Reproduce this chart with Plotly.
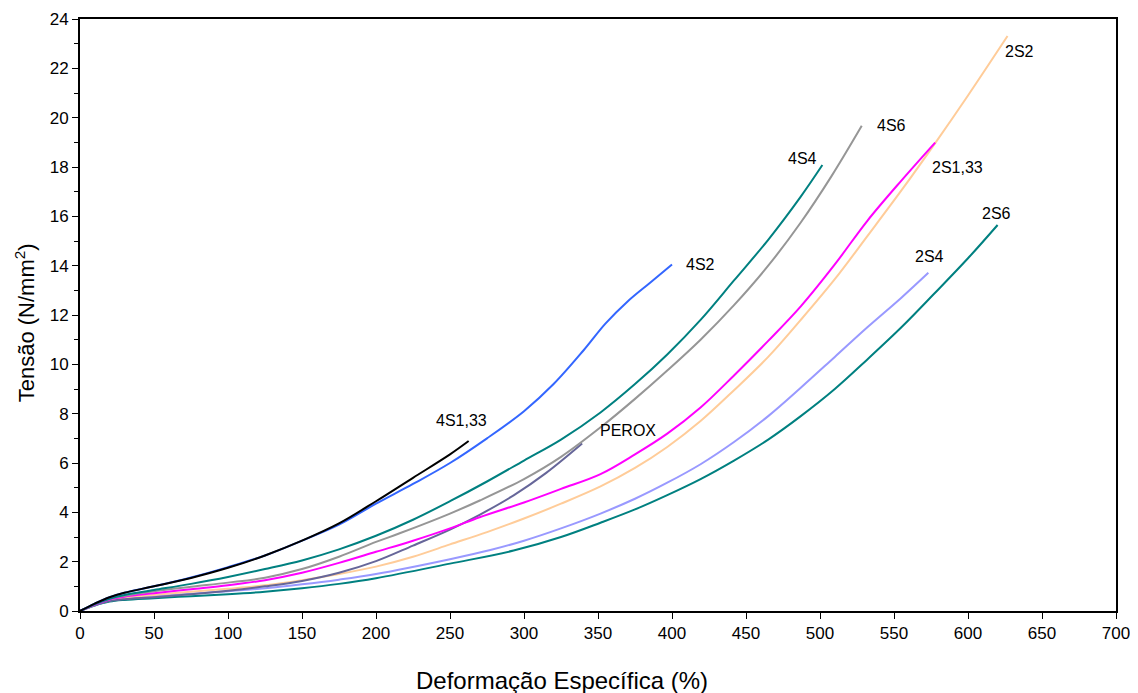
import plotly.graph_objects as go

# ---- data ----
x_4S133 = [0, 10, 20, 30, 50, 75, 100, 125, 150, 175, 200, 225, 250, 262.6]
y_4S133 = [0, 0.3, 0.56, 0.74, 1.0, 1.34, 1.75, 2.25, 2.85, 3.55, 4.45, 5.4, 6.35, 6.89]

x_4S2 = [0, 10, 20, 30, 50, 75, 100, 125, 150, 175, 200, 225, 250, 275, 300, 320, 340, 355, 370, 385, 400]
y_4S2 = [0, 0.3, 0.56, 0.74, 1.0, 1.36, 1.78, 2.25, 2.85, 3.5, 4.35, 5.15, 6.0, 7.0, 8.1, 9.2, 10.55, 11.65, 12.55, 13.3, 14.05]

x_4S4 = [0, 10, 20, 30, 50, 75, 100, 125, 150, 175, 200, 225, 250, 275, 300, 325, 351.7, 375, 396.8, 419.3, 441.9, 465, 487, 501.6]
y_4S4 = [0, 0.28, 0.5, 0.65, 0.85, 1.1, 1.38, 1.7, 2.05, 2.5, 3.05, 3.7, 4.45, 5.25, 6.1, 6.95, 8.05, 9.2, 10.4, 11.8, 13.4, 15.05, 16.8, 18.08]

x_4S6 = [0, 10, 20, 30, 50, 75, 100, 125, 150, 175, 200, 216, 250, 270.5, 300, 325, 353.9, 375, 396.8, 419.3, 441.9, 465, 487, 508, 528.2]
y_4S6 = [0, 0.28, 0.5, 0.62, 0.8, 0.98, 1.15, 1.35, 1.7, 2.2, 2.8, 3.15, 3.95, 4.49, 5.35, 6.25, 7.55, 8.6, 9.75, 11.0, 12.4, 14.0, 15.75, 17.65, 19.67]

x_2S133 = [0, 10, 20, 30, 50, 75, 100, 125, 150, 175, 200, 225, 250, 270, 300, 325, 351.7, 375, 396.8, 419.3, 441.9, 465, 487, 510, 532, 555, 577.8]
y_2S133 = [0, 0.26, 0.47, 0.58, 0.72, 0.88, 1.04, 1.25, 1.55, 1.95, 2.4, 2.85, 3.35, 3.8, 4.4, 4.95, 5.55, 6.35, 7.19, 8.25, 9.55, 10.95, 12.35, 14.05, 15.82, 17.45, 18.99]

x_2S2 = [0, 10, 20, 30, 50, 75, 100, 125, 150, 175, 200, 225, 250, 275, 300, 325, 351.7, 375, 396.8, 419.3, 441.9, 465, 487, 510, 532, 555, 577.6, 600, 626.7]
y_2S2 = [0, 0.25, 0.45, 0.54, 0.65, 0.78, 0.9, 1.04, 1.25, 1.5, 1.8, 2.2, 2.7, 3.2, 3.75, 4.35, 5.05, 5.8, 6.65, 7.7, 8.95, 10.3, 11.8, 13.45, 15.2, 17.05, 18.95, 20.9, 23.31]

x_2S4 = [0, 10, 20, 30, 50, 75, 100, 125, 150, 175, 200, 250, 277.3, 300, 325, 351.7, 375, 396.8, 419.3, 441.9, 465, 487, 510, 532, 555, 573.2]
y_2S4 = [0, 0.24, 0.42, 0.5, 0.6, 0.7, 0.8, 0.92, 1.08, 1.27, 1.5, 2.1, 2.47, 2.85, 3.35, 3.95, 4.55, 5.2, 5.95, 6.85, 7.9, 9.05, 10.3, 11.5, 12.7, 13.71]

x_2S6 = [0, 10, 20, 30, 50, 75, 100, 125, 150, 175, 200, 250, 293, 325, 351.7, 375, 396.8, 419.3, 441.9, 465, 487, 510, 532, 555, 577.1, 600, 620]
y_2S6 = [0, 0.22, 0.38, 0.45, 0.52, 0.6, 0.68, 0.78, 0.92, 1.1, 1.33, 1.92, 2.45, 3.0, 3.58, 4.12, 4.7, 5.35, 6.1, 6.95, 7.9, 9.0, 10.2, 11.5, 12.86, 14.3, 15.65]

x_PEROX = [0, 10, 20, 30, 50, 75, 100, 125, 150, 175, 200, 225, 250, 270, 293, 315, 339.3]
y_PEROX = [0, 0.23, 0.4, 0.48, 0.56, 0.68, 0.82, 1.0, 1.22, 1.55, 2.02, 2.65, 3.3, 3.9, 4.69, 5.6, 6.79]

series = [
    ("2S6", x_2S6, y_2S6, "#008080"),
    ("2S4", x_2S4, y_2S4, "#9999FF"),
    ("2S2", x_2S2, y_2S2, "#FFCC99"),
    ("PEROX", x_PEROX, y_PEROX, "#666699"),
    ("2S1,33", x_2S133, y_2S133, "#FF00FF"),
    ("4S6", x_4S6, y_4S6, "#969696"),
    ("4S4", x_4S4, y_4S4, "#008080"),
    ("4S2", x_4S2, y_4S2, "#3366FF"),
    ("4S1,33", x_4S133, y_4S133, "#000000"),
]

label_names = ["4S1,33", "4S2", "4S4", "4S6", "2S2", "2S1,33", "2S6", "2S4", "PEROX"]
label_x = [258, 419, 488, 548, 635, 593, 619, 574, 370]
label_y = [7.73, 14.05, 18.33, 19.67, 22.7, 18.0, 16.1, 14.37, 7.33]

x_ticks = list(range(0, 701, 50))
y_ticks = list(range(0, 25, 2))

x_title = "Deformação Específica (%)"
y_title = "Tensão (N/mm<sup>2</sup>)"

FONT = "'Liberation Sans', Arial, sans-serif"

fig = go.Figure()
for name, xs, ys, col in series:
    fig.add_trace(go.Scatter(x=xs, y=ys, mode="lines", name=name,
                             line=dict(color=col, width=2, shape="spline", smoothing=1.0)))

for t, lx, ly in zip(label_names, label_x, label_y):
    fig.add_annotation(x=lx, y=ly, text=t, showarrow=False,
                       font=dict(family=FONT, size=16, color="#000000"))

# axis titles placed as annotations (reference puts them slightly off-centre)
fig.add_annotation(xref="paper", yref="paper", x=0.465, y=0, yshift=-69,
                   xanchor="center", yanchor="middle", text=x_title, showarrow=False,
                   font=dict(family=FONT, size=24, color="#000000"))
fig.add_annotation(xref="paper", yref="paper", x=0, y=0.486, xshift=-55,
                   xanchor="center", yanchor="middle", text=y_title, textangle=-90,
                   showarrow=False, font=dict(family=FONT, size=22, color="#000000"))

# the page body has an 8px margin, so the figure is sized/offset to compensate
fig.update_layout(
    width=1130, height=685,
    margin=dict(l=72, r=22, t=11, b=82),
    paper_bgcolor="white", plot_bgcolor="white",
    showlegend=False,
    font=dict(family=FONT, color="#000000"),
)
fig.update_xaxes(
    range=[0, 700], tickvals=x_ticks, ticktext=[str(v) for v in x_ticks],
    showgrid=False, zeroline=False, automargin=False,
    showline=True, linecolor="black", linewidth=2, mirror=True,
    ticks="outside", ticklen=6, tickcolor="black", tickwidth=1,
    tickfont=dict(family=FONT, size=17),
)
fig.update_yaxes(
    range=[0, 24], tickvals=y_ticks, ticktext=[str(v) for v in y_ticks],
    showgrid=False, zeroline=False, automargin=False,
    showline=True, linecolor="black", linewidth=2, mirror=True,
    ticks="outside", ticklen=6, tickcolor="black", tickwidth=1,
    minor=dict(dtick=1, ticks="outside", ticklen=4, tickcolor="black", showgrid=False),
    tickfont=dict(family=FONT, size=17),
)

fig.write_html("out.html")
